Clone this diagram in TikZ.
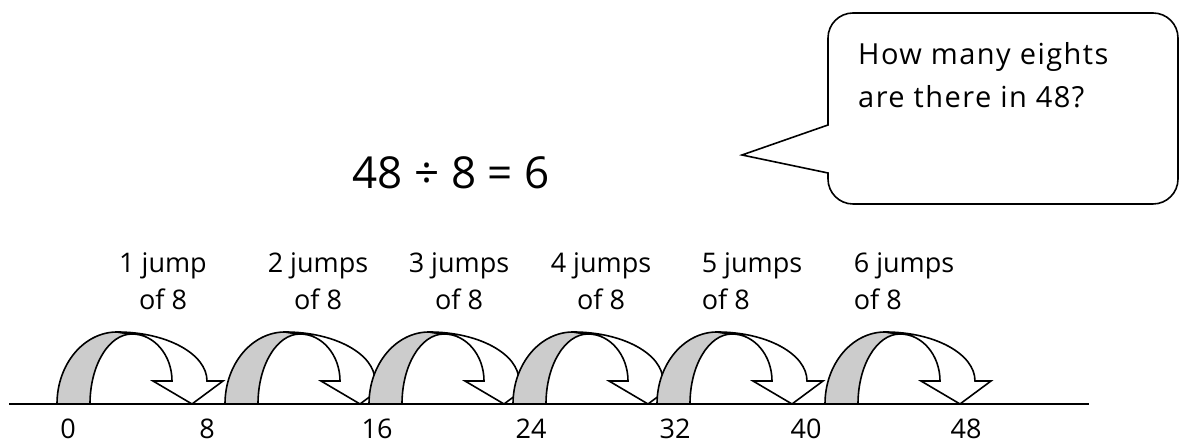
\documentclass[tikz,border=0pt]{standalone}
\usepackage{fontspec}
\setmainfont{Open Sans}
\usetikzlibrary{positioning}

\begin{document}
\begin{tikzpicture}[x=1pt, y=1pt,
    jumplbl/.style={inner sep=0pt, anchor=base, align=center, font=\fontsize{27}{37}\selectfont},
    numlbl/.style={inner sep=0pt, anchor=base, font=\fontsize{27}{32}\selectfont},
    outline/.style={draw=black, line width=1.6pt, line join=miter},
    backface/.style={outline, fill=black!20},
    frontface/.style={outline, fill=white}
]
\useasboundingbox (0,0) rectangle (1181,446);

% number line
\coordinate (lineL) at (9,42);
\coordinate (lineR) at (1089,42);
\draw[line width=2.2pt] (lineL) -- (lineR);

% jumps: start of the grey back face on the line
\foreach \s [count=\i] in {57,225,369,513,657,825}{
  \begin{scope}[shift={(\s,42)}]
    \coordinate (jump\i) at (0,0);
    \path[backface] (0,0) arc[start angle=180, end angle=90, x radius=60pt, y radius=72pt]
      -- (75,70) arc[start angle=90, end angle=180, x radius=42pt, y radius=70pt] -- cycle;
    \path[frontface] (60,72) arc[start angle=90, end angle=0, x radius=90pt, y radius=49pt]
      -- (166,23) -- (135,0) -- (96,23) -- (115,23)
      arc[start angle=0, end angle=90, x radius=40pt, y radius=47pt] -- cycle;
  \end{scope}
}

% numbers under the line
\node[numlbl] (n0) at (68,7) {0};
\node[numlbl] (n8) at (207,7) {8};
\node[numlbl] (n16) at (377,7) {16};
\node[numlbl] (n24) at (531,7) {24};
\node[numlbl] (n32) at (675,7) {32};
\node[numlbl] (n40) at (806,7) {40};
\node[numlbl] (n48) at (966,7) {48};

% jump labels (base = last line)
\node[jumplbl] (j1) at (163,136) {1 jump\\of 8};
\node[jumplbl] (j2) at (318,136) {2 jumps\\of 8};
\node[jumplbl] (j3) at (459,136) {3 jumps\\of 8};
\node[jumplbl] (j4) at (601,136) {4 jumps\\of 8};
\node[jumplbl, align=left] (j5) at (752,136) {5 jumps\\of 8};
\node[jumplbl, align=left] (j6) at (904,136) {6 jumps\\of 8};

% sum
\node[inner sep=0pt, anchor=base, font=\fontsize{44}{50}\selectfont] (sum) at (451,257) {48 ÷ 8 = 6};

% speech bubble
\coordinate (tail) at (742,291);
\draw[outline] (828,321) -- (tail) -- (828,273)
  [rounded corners=25pt] -- (828,242) -- (1178,242) -- (1178,433) -- (828,433)
  [sharp corners] -- cycle;
\node[inner sep=0pt, anchor=base west, align=left,
  font=\fontsize{29}{43}\selectfont\addfontfeatures{LetterSpace=5}] (question) at (858,338)
  {How many eights\\are there in 48?};
\end{tikzpicture}
\end{document}
